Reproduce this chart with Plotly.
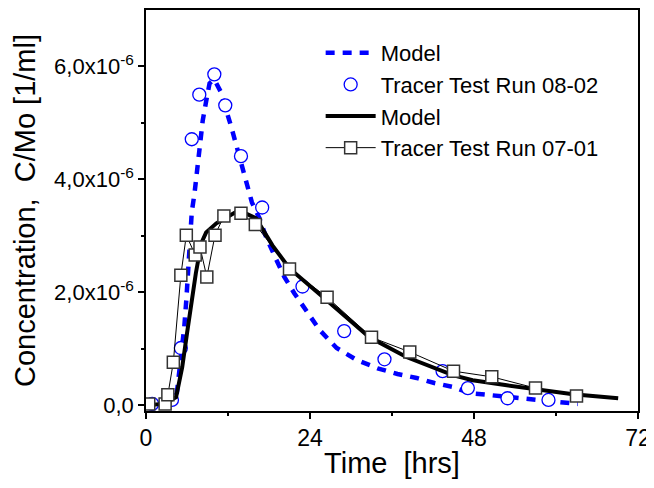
import plotly.graph_objects as go

# ---- data (time in hrs, concentration in units of 1e-6 1/ml) ----
model_0802_t = [0.4, 2.6, 4.4, 4.8, 5.3, 5.6, 5.9, 6.3, 6.7, 7.1, 7.4, 7.7, 8.0, 8.3, 8.8, 9.3,
                10.0, 10.9, 12.5, 13.3, 14.7, 15.5, 16.6, 17.6, 18.9, 20.2, 21.7, 23.5, 25.4,
                27.9, 30.8, 33.9, 36.8, 39.6, 42.2, 44.9, 47.4, 50.0, 55.4, 60.6, 63.2]
model_0802_c = [0.0, 0.02, 0.09, 0.48, 0.97, 1.38, 1.86, 2.74, 3.42, 3.75, 4.07, 4.39, 4.71, 5.04,
                5.38, 5.70, 5.77, 5.56, 4.92, 4.58, 3.93, 3.59, 3.31, 2.97, 2.62, 2.28, 1.98, 1.65,
                1.33, 1.01, 0.80, 0.65, 0.55, 0.48, 0.39, 0.32, 0.21, 0.18, 0.11, 0.05, 0.02]

run_0802_t = [0.9, 3.8, 5.1, 6.7, 7.8, 10.0, 11.6, 13.9, 17.0, 22.9, 29.0, 34.9, 43.4, 47.1, 52.9, 58.9]
run_0802_c = [0.02, 0.09, 1.01, 4.71, 5.50, 5.86, 5.31, 4.41, 3.50, 2.10, 1.31, 0.81, 0.60, 0.30, 0.12, 0.09]

model_0701_t = [0.4, 2.6, 4.4, 5.3, 6.0, 6.7, 7.3, 8.1, 8.8, 10.3, 12.2, 13.6, 16.1, 18.5, 21.0,
                24.0, 26.4, 32.7, 38.1, 44.9, 47.8, 52.8, 57.2, 62.5, 69.1]
model_0701_c = [0.0, 0.02, 0.14, 0.67, 1.27, 1.86, 2.34, 2.87, 3.06, 3.22, 3.36, 3.45, 3.31, 2.83,
                2.42, 2.12, 1.86, 1.20, 0.85, 0.53, 0.44, 0.35, 0.28, 0.19, 0.12]

run_0701_t = [0.4, 2.8, 3.2, 4.0, 5.1, 5.9, 7.2, 7.9, 8.9, 10.1, 11.4, 13.9, 16.0, 21.0, 26.5,
              33.0, 38.6, 45.0, 50.6, 57.0, 63.0]
run_0701_c = [0.02, 0.02, 0.18, 0.76, 2.30, 3.01, 2.66, 2.80, 2.27, 3.01, 3.35, 3.40, 3.20, 2.41,
              1.91, 1.20, 0.94, 0.60, 0.50, 0.30, 0.16]

x_ticks = [0, 24, 48, 72]
x_minor = [12, 36, 60]
y_ticks = [0.0, 2.0e-6, 4.0e-6, 6.0e-6]
y_ticktext = ["0,0", "2,0x10<sup>-6</sup>", "4,0x10<sup>-6</sup>", "6,0x10<sup>-6</sup>"]
y_minor = [1.0e-6, 3.0e-6, 5.0e-6]

scale = 1e-6
FONT = "Liberation Sans, Arial, sans-serif"

fig = go.Figure()
fig.add_trace(go.Scatter(
    x=model_0802_t, y=[v * scale for v in model_0802_c], mode="lines", name="Model",
    line=dict(color="#0000ff", width=4.5, dash="9px,8px")))
fig.add_trace(go.Scatter(
    x=run_0802_t, y=[v * scale for v in run_0802_c], mode="markers", name="Tracer Test Run 08-02",
    marker=dict(symbol="circle", size=13, color="white", line=dict(color="#0000ff", width=1.3))))
fig.add_trace(go.Scatter(
    x=model_0701_t, y=[v * scale for v in model_0701_c], mode="lines", name="Model",
    line=dict(color="black", width=4)))
fig.add_trace(go.Scatter(
    x=run_0701_t, y=[v * scale for v in run_0701_c], mode="lines+markers", name="Tracer Test Run 07-01",
    line=dict(color="black", width=1),
    marker=dict(symbol="square", size=12, color="white", line=dict(color="#333333", width=1.5))))

# the page body adds an 8 px offset; margins compensate for it
fig.update_layout(
    width=654, height=488,
    margin=dict(l=138, r=24, t=2, b=85, autoexpand=False),
    paper_bgcolor="white", plot_bgcolor="white",
    font=dict(family=FONT, color="black", size=23),
    showlegend=True,
    legend=dict(x=0.355, y=0.945, xanchor="left", yanchor="top",
                bgcolor="rgba(0,0,0,0)", borderwidth=0,
                font=dict(family=FONT, size=22, color="black"),
                itemwidth=50, tracegroupgap=0),
)
fig.update_xaxes(
    range=[0, 72], tickvals=x_ticks, ticktext=[str(v) for v in x_ticks],
    showline=True, linecolor="black", linewidth=1.5, mirror=True,
    ticks="outside", ticklen=6, tickwidth=1.5, tickcolor="black",
    minor=dict(tickvals=x_minor, ticks="outside", ticklen=3, tickwidth=1.5, tickcolor="black"),
    showgrid=False, zeroline=False, automargin=False,
    tickfont=dict(size=23),
    title=dict(text="Time  [hrs]", font=dict(size=29), standoff=2),
)
fig.update_yaxes(
    range=[-1.06e-7, 7.0e-6], tickvals=y_ticks, ticktext=y_ticktext,
    showline=True, linecolor="black", linewidth=1.5, mirror=True,
    ticks="outside", ticklen=6, tickwidth=1.5, tickcolor="black",
    minor=dict(tickvals=y_minor, ticks="outside", ticklen=3, tickwidth=1.5, tickcolor="black"),
    showgrid=False, zeroline=False, automargin=False,
    tickfont=dict(size=22),
    title=dict(text="Concentration,  C/Mo [1/ml]", font=dict(size=29), standoff=10),
)

fig.write_html("out.html")
